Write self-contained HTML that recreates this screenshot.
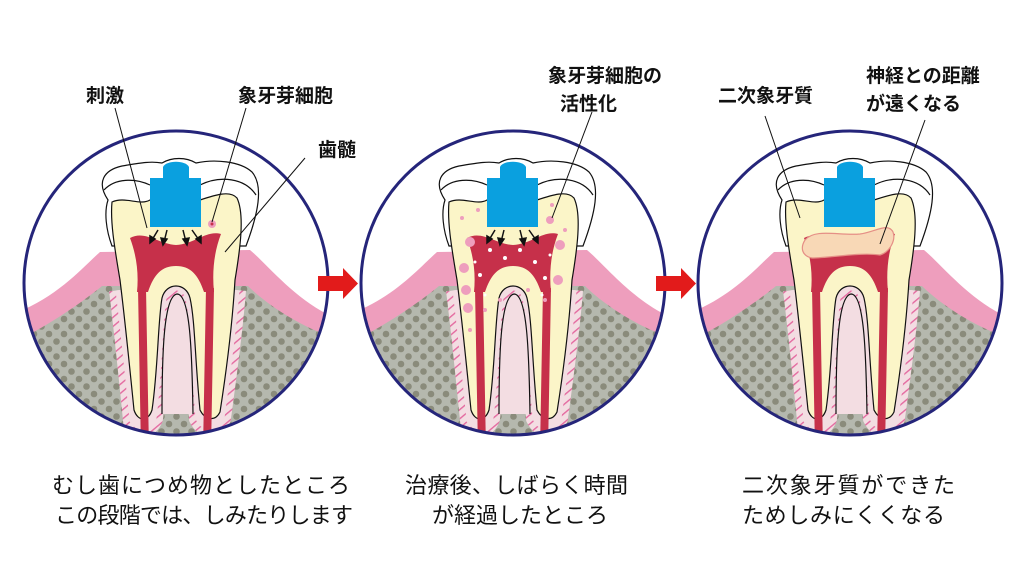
<!DOCTYPE html>
<html><head><meta charset="utf-8"><style>
html,body{margin:0;padding:0;background:#fff;}
svg{display:block;}
text{font-family:"Liberation Sans","Noto Sans CJK JP",sans-serif;fill:#111;}
</style></head><body>
<svg width="1024" height="572" viewBox="0 0 1024 572" xmlns="http://www.w3.org/2000/svg">
<defs>
<pattern id="dots" width="15" height="15" patternUnits="userSpaceOnUse">
<rect width="15" height="15" fill="#b5b8ae"/>
<circle cx="4" cy="4" r="3.3" fill="#8a8b7b"/><circle cx="11.5" cy="11.5" r="3.3" fill="#8a8b7b"/>
</pattern>
<pattern id="hatch" width="7" height="7" patternUnits="userSpaceOnUse" patternTransform="rotate(-40)">
<rect width="7" height="7" fill="#f3dde2"/><rect width="7" height="1.4" fill="#e46aa0"/>
</pattern>
<clipPath id="cc"><circle cx="176" cy="283" r="152"/></clipPath>
<g id="base">
<g clip-path="url(#cc)">
<rect x="20" y="125" width="315" height="320" fill="#fff"/>
<path d="M18 312 C60 295 85 265 100 252 L250 250 C268 265 295 300 335 318 L335 450 L18 450Z" fill="#ee9ebd"/>
<path d="M18 340 C50 325 85 300 102 286 L248 286 C262 300 295 325 335 338 L335 450 L18 450Z" fill="url(#dots)"/>
<path d="M120 290 C125 330 130 380 134 420 C140 428 148 428 152 418 C158 370 158 320 162 298 C166 282 186 282 190 298 C195 320 195 360 200 418 C205 428 215 428 220 418 C225 380 232 330 235 290" fill="none" stroke="url(#hatch)" stroke-width="22"/>
<path d="M120 290 C125 330 130 380 134 420 C140 428 148 428 152 418 C158 370 158 320 162 298 C166 282 186 282 190 298 C195 320 195 360 200 418 C205 428 215 428 220 418 C225 380 232 330 235 290" fill="none" stroke="#f3dde2" stroke-width="9"/>
<path d="M108 200 C96 182 104 170 122 166 C140 163 150 161 162 163 C172 157 186 157 196 163 C214 159 240 161 252 172 C264 186 258 214 246 246 L112 246 C106 230 104 212 108 200Z" fill="#fff" stroke="#111" stroke-width="1.2"/>
<path d="M104 190 C115 178 135 178 150 185 M200 185 C220 175 245 178 256 195" fill="none" stroke="#111" stroke-width="1.2"/>
<path d="M112 202 C125 196 140 206 150 200 L200 200 C215 195 230 190 237 198 C245 215 240 250 235 280 C232 330 225 380 220 412 C215 422 205 420 200 410 C195 360 195 320 190 298 C186 282 166 282 162 298 C158 320 158 370 152 410 C148 422 138 422 134 410 C130 370 125 320 120 280 C115 250 110 222 112 202Z" fill="#fbf5c8" stroke="#111" stroke-width="1.2"/>
<path d="M130 238 C145 230 158 244 176 245 C195 244 206 230 221 234 C214 252 212 272 214 292 L204 292 C198 274 190 266 176 266 C162 266 154 274 148 292 L137 292 C139 272 136 254 130 238Z" fill="#c6304a"/>
<path d="M142 288 C143 340 144 400 145 450" stroke="#c6304a" stroke-width="8" fill="none"/>
<path d="M210 288 C209 340 208 400 207 450" stroke="#c6304a" stroke-width="8" fill="none"/>
<path d="M162 414 C162 350 164 296 177 294 C190 294 192 350 193 414" fill="#f3dde2" stroke="#111" stroke-width="1.2"/>
<path d="M163 167 C166 160 186 160 189 167 L189 178 L201 178 L201 227 L150 227 L150 178 L163 178Z" fill="#0aa0df"/>
</g>
</g>
<g id="arrows" stroke="#111" stroke-width="1.5" fill="#111">
<line x1="158" y1="230" x2="152" y2="240"/><path d="M150 243 L150 236 L155 239Z"/>
<line x1="167" y1="230" x2="164" y2="242"/><path d="M163 245 L161 238 L167 239Z"/>
<line x1="183" y1="230" x2="186" y2="242"/><path d="M187 245 L183 239 L189 238Z"/>
<line x1="192" y1="230" x2="199" y2="240"/><path d="M201 243 L196 239 L201 236Z"/>
</g>
</defs>

<use href="#base"/>
<use href="#arrows"/>
<circle cx="212" cy="224" r="4" fill="#ee9ebd"/><circle cx="212" cy="224" r="1.5" fill="#c6304a"/>

<use href="#base" transform="translate(337,0)"/>
<use href="#arrows" transform="translate(337,0)"/>
<g fill="#ee9ebd">
<circle cx="550" cy="220" r="4"/><circle cx="470" cy="242" r="5"/><circle cx="464" cy="268" r="5"/><circle cx="466" cy="290" r="5"/><circle cx="468" cy="308" r="5"/><circle cx="560" cy="245" r="5"/><circle cx="558" cy="280" r="5"/>
<circle cx="462" cy="218" r="2"/><circle cx="478" cy="210" r="2"/><circle cx="552" cy="205" r="2"/><circle cx="565" cy="230" r="2"/><circle cx="470" cy="330" r="2"/><circle cx="500" cy="300" r="2"/><circle cx="528" cy="290" r="2"/><circle cx="545" cy="300" r="2"/><circle cx="485" cy="310" r="2"/>
</g>
<g fill="#fff">
<circle cx="490" cy="250" r="2"/><circle cx="505" cy="258" r="2"/><circle cx="520" cy="250" r="2"/><circle cx="535" cy="262" r="2"/><circle cx="480" cy="275" r="2"/><circle cx="545" cy="278" r="2"/><circle cx="475" cy="262" r="1.5"/><circle cx="550" cy="255" r="1.5"/><circle cx="485" cy="295" r="1.5"/><circle cx="542" cy="295" r="1.5"/>
</g>

<use href="#base" transform="translate(674,0)"/>
<path d="M805 240 C815 228 840 236 860 234 C875 232 888 222 893 232 C896 240 890 252 880 255 C860 252 830 258 812 258 C802 256 800 248 805 240Z" fill="#f8d8b6" stroke="#e58f86" stroke-width="1.2"/>

<g fill="none" stroke="#25257a" stroke-width="3">
<circle cx="176" cy="283" r="152"/><circle cx="513" cy="283" r="152"/><circle cx="850" cy="283" r="152"/>
</g>

<g fill="#e21b1b">
<rect x="318" y="276" width="26" height="15"/><path d="M343 268 L358 283.5 L343 299Z"/>
<rect x="656" y="276" width="26" height="15"/><path d="M681 268 L696 283.5 L681 299Z"/>
</g>

<g stroke="#111" stroke-width="1">
<line x1="115" y1="108" x2="147" y2="228"/>
<line x1="246" y1="108" x2="212" y2="222"/>
<line x1="305" y1="158" x2="225" y2="252"/>
<line x1="592" y1="112" x2="552" y2="218"/>
<line x1="765" y1="116" x2="800" y2="218"/>
<line x1="925" y1="120" x2="880" y2="244"/>
</g>

<g font-size="19" font-weight="bold">
<text x="86" y="102">刺激</text>
<text x="238" y="102">象牙芽細胞</text>
<text x="318" y="156">歯髄</text>
<text x="548" y="82">象牙芽細胞の</text>
<text x="560" y="110">活性化</text>
<text x="718" y="102">二次象牙質</text>
<text x="866" y="82">神経との距離</text>
<text x="866" y="110">が遠くなる</text>
</g>
<g font-size="22">
<text x="52" y="493" textLength="298">むし歯につめ物としたところ</text>
<text x="55" y="523" textLength="298">この段階では、しみたりします</text>
<text x="405" y="493" textLength="223">治療後、しばらく時間</text>
<text x="432" y="523" textLength="176">が経過したところ</text>
<text x="742" y="493" textLength="213">二次象牙質ができた</text>
<text x="742" y="523" textLength="203">ためしみにくくなる</text>
</g>
</svg>
</body></html>
